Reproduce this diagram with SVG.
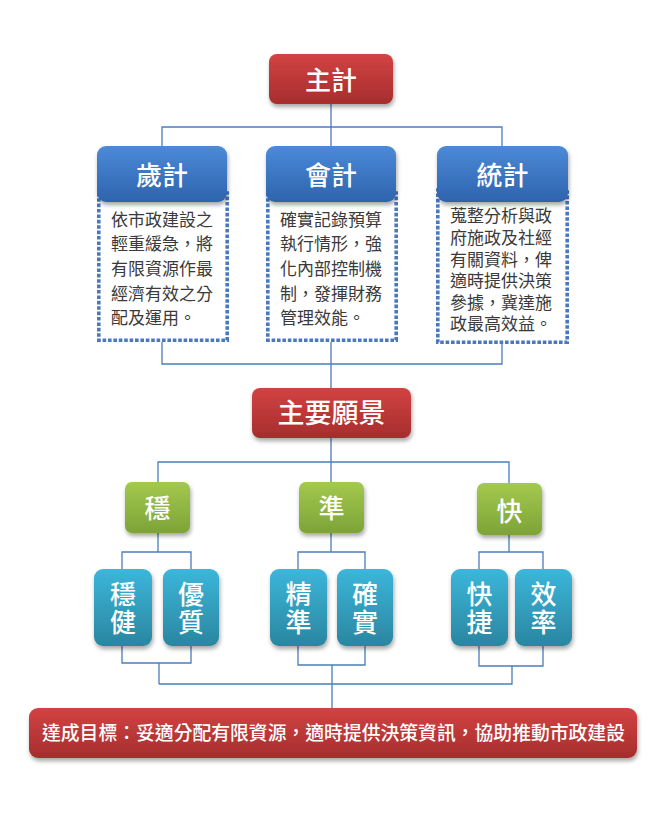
<svg xmlns="http://www.w3.org/2000/svg" width="669" height="822" viewBox="0 0 669 822">
<style>
.t{font-family:"Noto Sans CJK TC","Noto Sans CJK SC",sans-serif;fill:#fff;text-anchor:middle;font-weight:500}
.b{font-family:"Noto Sans CJK TC","Noto Sans CJK SC",sans-serif;fill:#3a3a3a;font-size:17px}
.dot{fill:#fff;stroke:#4a78bd;stroke-width:3.6;stroke-dasharray:3.6 1.8}
.c{fill:none;stroke:#4a7ebb;stroke-width:1.3}
</style>
<defs>
<linearGradient id="gr" x1="0" y1="0" x2="0" y2="1"><stop offset="0" stop-color="#d24343"/><stop offset="1" stop-color="#a62d2d"/></linearGradient>
<linearGradient id="gb" x1="0" y1="0" x2="0" y2="1"><stop offset="0" stop-color="#4b8ad8"/><stop offset="1" stop-color="#2e63ad"/></linearGradient>
<linearGradient id="gg" x1="0" y1="0" x2="0" y2="1"><stop offset="0" stop-color="#a3c94e"/><stop offset="1" stop-color="#7da338"/></linearGradient>
<linearGradient id="gc" x1="0" y1="0" x2="0" y2="1"><stop offset="0" stop-color="#3cb6da"/><stop offset="1" stop-color="#2a86a0"/></linearGradient>
<filter id="sh" x="-20%" y="-20%" width="140%" height="160%"><feDropShadow dx="1" dy="3" stdDeviation="2.2" flood-color="#000" flood-opacity="0.35"/></filter>
</defs>
<rect width="669" height="822" fill="#fff"/>
<g id="connectors">
<path class="c" d="M331 104V127M162 147V127H502V147M331 127V147"/>
<path class="c" d="M162 342V364H502V344M331 342V388"/>
<path class="c" d="M331 438V462M158 482V462H509V483M331 462V482"/>
<path class="c" d="M158 533V552M122 569V552H191V569"/>
<path class="c" d="M331 533V552M298 569V552H365V569"/>
<path class="c" d="M509 535V552M479 569V552H543V569"/>
<path class="c" d="M122 646V663H191V646M159 663V684"/>
<path class="c" d="M298 646V665H365V646M332 665V708"/>
<path class="c" d="M479 646V666H543V646M512 666V684H159"/>
</g>
<g id="zhuji"><rect x="269" y="54" width="124" height="50" rx="8" fill="url(#gr)" filter="url(#sh)"/><text class="t" x="331" y="90" font-size="26">主計</text></g>
<g id="suiji">
<rect class="dot" x="98.8" y="190" width="128.4" height="150.2"/>
<rect x="97" y="146" width="130" height="56" rx="9" fill="url(#gb)" filter="url(#sh)"/>
<text class="t" x="162" y="185" font-size="26">歲計</text>
<text class="b" x="111" y="226">依市政建設之</text>
<text class="b" x="111" y="250">輕重緩急，將</text>
<text class="b" x="111" y="275">有限資源作最</text>
<text class="b" x="111" y="300">經濟有效之分</text>
<text class="b" x="111" y="324">配及運用。</text>
</g>
<g id="kuaiji">
<rect class="dot" x="267.8" y="190" width="128.4" height="150.2"/>
<rect x="266" y="146" width="130" height="56" rx="9" fill="url(#gb)" filter="url(#sh)"/>
<text class="t" x="331" y="185" font-size="26">會計</text>
<text class="b" x="280" y="226">確實記錄預算</text>
<text class="b" x="280" y="250">執行情形，強</text>
<text class="b" x="280" y="275">化內部控制機</text>
<text class="b" x="280" y="300">制，發揮財務</text>
<text class="b" x="280" y="324">管理效能。</text>
</g>
<g id="tongji">
<rect class="dot" x="437.8" y="190" width="129.4" height="152.2"/>
<rect x="437" y="146" width="131" height="56" rx="9" fill="url(#gb)" filter="url(#sh)"/>
<text class="t" x="502.5" y="185" font-size="26">統計</text>
<text class="b" x="450" y="222">蒐整分析與政</text>
<text class="b" x="450" y="244">府施政及社經</text>
<text class="b" x="450" y="265.5">有關資料，俾</text>
<text class="b" x="450" y="287">適時提供決策</text>
<text class="b" x="450" y="308.5">參據，冀達施</text>
<text class="b" x="450" y="330">政最高效益。</text>
</g>
<g id="vision"><rect x="252" y="388" width="159" height="50" rx="8" fill="url(#gr)" filter="url(#sh)"/><text class="t" x="331.5" y="423" font-size="27">主要願景</text></g>
<g id="wen"><rect x="125" y="482" width="65" height="51" rx="7" fill="url(#gg)" filter="url(#sh)"/><text class="t" x="157.5" y="518" font-size="26">穩</text></g>
<g id="zhun"><rect x="299" y="482" width="65" height="51" rx="7" fill="url(#gg)" filter="url(#sh)"/><text class="t" x="331.5" y="518" font-size="26">準</text></g>
<g id="kuai"><rect x="477" y="483" width="65" height="52" rx="7" fill="url(#gg)" filter="url(#sh)"/><text class="t" x="509.5" y="521" font-size="26">快</text></g>
<g id="wenjian"><rect x="94" y="569" width="58" height="77" rx="9" fill="url(#gc)" filter="url(#sh)"/><text class="t" font-size="26"><tspan x="123" y="604">穩</tspan><tspan x="123" y="632">健</tspan></text></g>
<g id="youzhi"><rect x="163" y="569" width="56" height="77" rx="9" fill="url(#gc)" filter="url(#sh)"/><text class="t" font-size="26"><tspan x="191" y="604">優</tspan><tspan x="191" y="632">質</tspan></text></g>
<g id="jingzhun"><rect x="270" y="569" width="57" height="77" rx="9" fill="url(#gc)" filter="url(#sh)"/><text class="t" font-size="26"><tspan x="298.5" y="604">精</tspan><tspan x="298.5" y="632">準</tspan></text></g>
<g id="queshi"><rect x="337" y="569" width="56" height="77" rx="9" fill="url(#gc)" filter="url(#sh)"/><text class="t" font-size="26"><tspan x="365" y="604">確</tspan><tspan x="365" y="632">實</tspan></text></g>
<g id="kuaijie"><rect x="451" y="569" width="57" height="77" rx="9" fill="url(#gc)" filter="url(#sh)"/><text class="t" font-size="26"><tspan x="479.5" y="604">快</tspan><tspan x="479.5" y="632">捷</tspan></text></g>
<g id="xiaolv"><rect x="515" y="569" width="57" height="77" rx="9" fill="url(#gc)" filter="url(#sh)"/><text class="t" font-size="26"><tspan x="543.5" y="604">效</tspan><tspan x="543.5" y="632">率</tspan></text></g>
<g id="goal"><rect x="29" y="708" width="608" height="50" rx="9" fill="url(#gr)" filter="url(#sh)"/><text class="t" x="333.5" y="740" font-size="19" font-weight="700" textLength="583" lengthAdjust="spacingAndGlyphs">達成目標：妥適分配有限資源，適時提供決策資訊，協助推動市政建設</text></g>
</svg>
